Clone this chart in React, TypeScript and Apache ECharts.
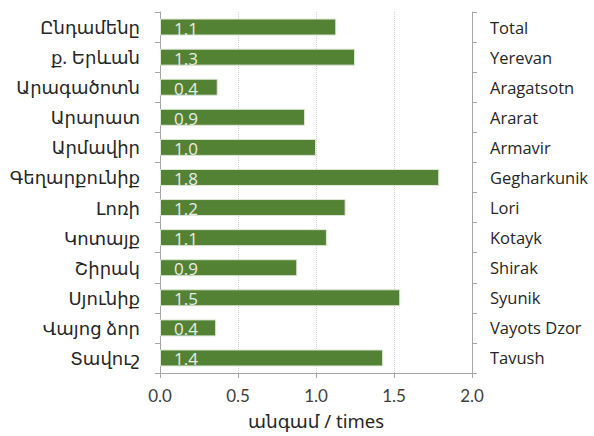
import React, { useEffect, useRef } from "react";
import * as echarts from "echarts";

const categoriesHy = [
  "Ընդամենը",
  "ք. Երևան",
  "Արագածոտն",
  "Արարատ",
  "Արմավիր",
  "Գեղարքունիք",
  "Լոռի",
  "Կոտայք",
  "Շիրակ",
  "Սյունիք",
  "Վայոց ձոր",
  "Տավուշ",
];
const categoriesEn = [
  "Total",
  "Yerevan",
  "Aragatsotn",
  "Ararat",
  "Armavir",
  "Gegharkunik",
  "Lori",
  "Kotayk",
  "Shirak",
  "Syunik",
  "Vayots Dzor",
  "Tavush",
];
const values = [1.13, 1.25, 0.37, 0.93, 1.0, 1.79, 1.19, 1.07, 0.88, 1.54, 0.36, 1.43];
const xTicks = [0, 0.5, 1.0, 1.5, 2.0];
const axisTitle = "անգամ / times";

const latin = "Lato, 'Open Sans', 'DejaVu Sans', sans-serif";
const wide = "'Open Sans', Lato, 'DejaVu Sans', sans-serif";
const armenian = "'Noto Sans', 'DejaVu Sans', sans-serif";

export default function App() {
  const ref = useRef<HTMLDivElement>(null);
  useEffect(() => {
    document.body.style.margin = "0";
    if (!ref.current) return;
    const chart = echarts.init(ref.current, null, { renderer: "svg" });
    chart.setOption({
      animation: false,
      backgroundColor: "#ffffff",
      grid: { left: 160, right: 122, top: 12, bottom: 63, containLabel: false },
      xAxis: {
        type: "value",
        min: xTicks[0],
        max: xTicks[xTicks.length - 1],
        interval: 0.5,
        name: axisTitle,
        nameLocation: "middle",
        nameGap: 38,
        nameTextStyle: { fontFamily: armenian, fontSize: 18.5, color: "#262626" },
        axisLine: { show: true, lineStyle: { color: "#a6a6a6", width: 1 } },
        axisTick: { show: true, length: 5, lineStyle: { color: "#a6a6a6" } },
        axisLabel: {
          formatter: (v: number) => v.toFixed(1),
          fontFamily: latin,
          fontSize: 17,
          color: "#404040",
          margin: 14,
        },
        splitLine: { show: true, lineStyle: { color: "#d0d0d0", type: "dotted", width: 1 } },
      },
      yAxis: [
        {
          type: "category",
          data: categoriesHy,
          inverse: true,
          position: "left",
          axisLine: { show: true, lineStyle: { color: "#a6a6a6" } },
          axisTick: { show: true, length: 5, lineStyle: { color: "#a6a6a6" } },
          axisLabel: { fontFamily: armenian, fontSize: 18, color: "#262626", margin: 20 },
          splitLine: { show: false },
        },
        {
          type: "category",
          data: categoriesEn,
          inverse: true,
          position: "right",
          axisLine: { show: true, lineStyle: { color: "#a6a6a6" } },
          axisTick: { show: true, length: 5, lineStyle: { color: "#a6a6a6" } },
          axisLabel: { fontFamily: wide, fontSize: 16.5, color: "#262626", margin: 18 },
          splitLine: { show: false },
        },
      ],
      series: [
        {
          type: "bar",
          yAxisIndex: 0,
          data: values,
          barWidth: 17,
          itemStyle: { color: "#548235", borderColor: "#dfe8d8", borderWidth: 1 },
          label: {
            show: true,
            position: "insideLeft",
            distance: 14,
            offset: [0, 1],
            formatter: (p: any) => Number(p.value).toFixed(1),
            fontFamily: wide,
            fontSize: 17,
            color: "#e8ede4",
          },
        },
      ],
    });
    return () => chart.dispose();
  }, []);
  return <div ref={ref} style={{ width: 594, height: 436 }} />;
}
